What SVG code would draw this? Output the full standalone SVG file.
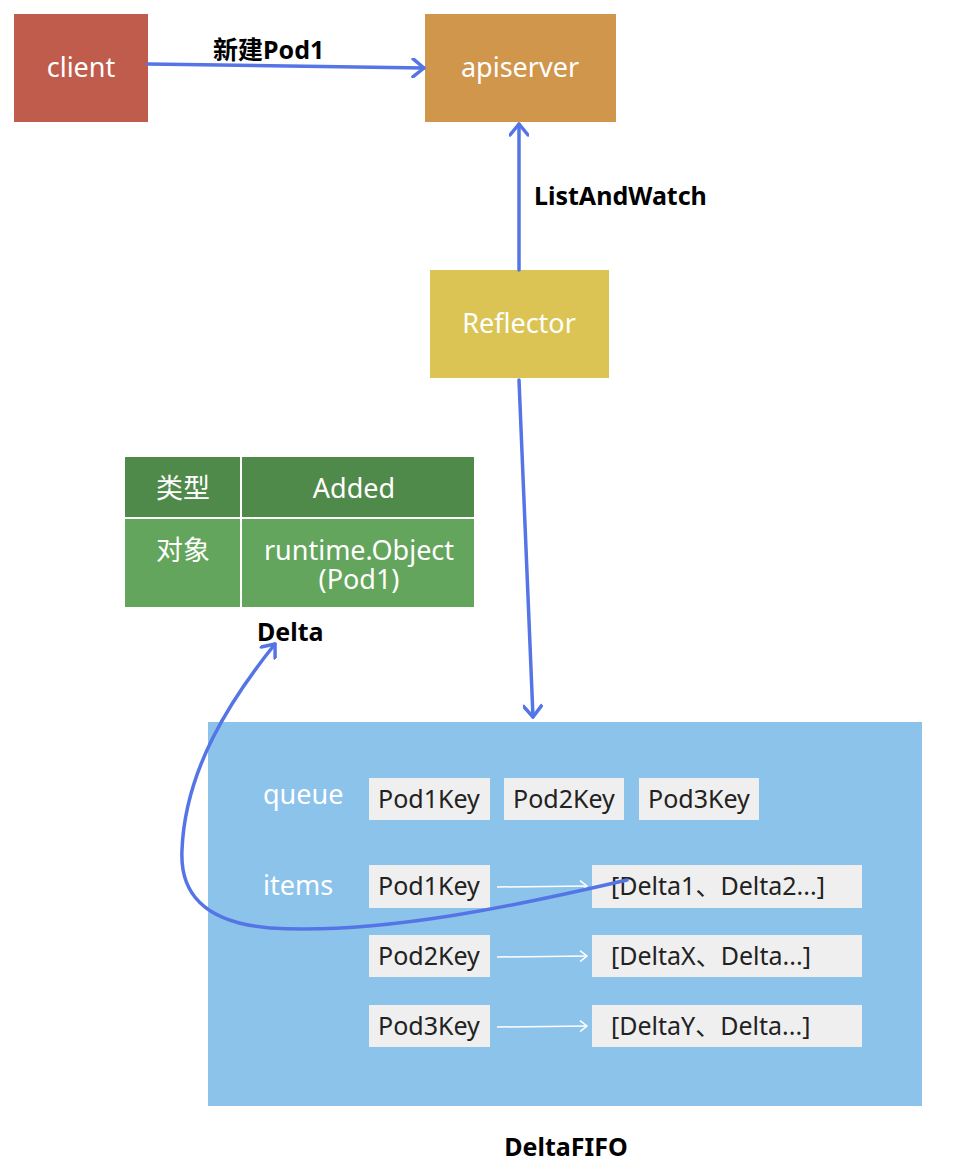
<svg xmlns="http://www.w3.org/2000/svg" width="953" height="1174" viewBox="0 0 953 1174">
<style>
.t{font-family:"Noto Sans","Noto Sans CJK SC",sans-serif}
.wt{fill:#fff;font-size:27px}
.bt{fill:#000;font-size:25px;font-weight:bold}
.kt{fill:#222;font-size:25px}
.key{fill:#efefef}
.con{fill:none;stroke:#5575e6;stroke-width:3.5;stroke-linecap:round}
.thin{fill:none;stroke:#fff;stroke-width:1.5}
</style>
<defs>
<marker id="ah" viewBox="0 0 20 20" refX="14" refY="10" markerWidth="20" markerHeight="20" markerUnits="userSpaceOnUse" orient="auto">
<path d="M3 1 L14 10 L3 19" fill="none" stroke="#5575e6" stroke-width="3.5" stroke-linecap="round" stroke-linejoin="round"/>
</marker>
<marker id="wh" viewBox="0 0 12 12" refX="10" refY="6" markerWidth="12" markerHeight="12" markerUnits="userSpaceOnUse" orient="auto">
<path d="M3 0.5 L10 6 L3 11.5" fill="none" stroke="#fff" stroke-width="1.5"/>
</marker>
</defs>
<rect width="953" height="1174" fill="#fff"/>

<g id="client">
<rect x="14" y="14" width="134" height="108" fill="#c05c4c"/>
<text class="t wt" x="81" y="77" text-anchor="middle">client</text>
</g>
<g id="apiserver">
<rect x="425" y="14" width="191" height="108" fill="#d0964b"/>
<text class="t wt" x="520" y="77" text-anchor="middle">apiserver</text>
</g>
<g id="reflector">
<rect x="430" y="270" width="179" height="108" fill="#dcc454"/>
<text class="t wt" x="519" y="333" text-anchor="middle">Reflector</text>
</g>

<g id="delta">
<rect x="125" y="457" width="349" height="60" fill="#4f8a4b"/>
<rect x="125" y="519" width="349" height="88" fill="#63a55c"/>
<line x1="241" y1="457" x2="241" y2="607" stroke="#fff" stroke-width="2"/>
<text class="t wt" x="183" y="498" text-anchor="middle" font-size="25">类型</text>
<text class="t wt" x="354" y="498" text-anchor="middle">Added</text>
<text class="t wt" x="183" y="560" text-anchor="middle" font-size="25">对象</text>
<text class="t wt" x="359" y="560" text-anchor="middle">runtime.Object</text>
<text class="t wt" x="359" y="589" text-anchor="middle">(Pod1)</text>
<text class="t bt" x="257" y="641">Delta</text>
</g>

<g id="deltafifo">
<rect x="208" y="722" width="714" height="384" fill="#8cc3ea"/>
<text class="t wt" x="263" y="804">queue</text>
<text class="t wt" x="263" y="895">items</text>
<g id="queue">
<rect class="key" x="369" y="778" width="121" height="42"/>
<text class="t kt" x="429" y="808" text-anchor="middle">Pod1Key</text>
<rect class="key" x="504" y="778" width="120" height="42"/>
<text class="t kt" x="564" y="808" text-anchor="middle">Pod2Key</text>
<rect class="key" x="639" y="778" width="120" height="42"/>
<text class="t kt" x="699" y="808" text-anchor="middle">Pod3Key</text>
</g>
<g id="items">
<rect class="key" x="369" y="865" width="121" height="43"/>
<text class="t kt" x="429" y="895" text-anchor="middle">Pod1Key</text>
<rect class="key" x="592" y="865" width="270" height="43"/>
<text class="t kt" x="611" y="895">[Delta1、Delta2...]</text>
<rect class="key" x="369" y="935" width="121" height="42"/>
<text class="t kt" x="429" y="965" text-anchor="middle">Pod2Key</text>
<rect class="key" x="592" y="935" width="270" height="42"/>
<text class="t kt" x="611" y="965">[DeltaX、Delta...]</text>
<rect class="key" x="369" y="1005" width="121" height="42"/>
<text class="t kt" x="429" y="1035" text-anchor="middle">Pod3Key</text>
<rect class="key" x="592" y="1005" width="270" height="42"/>
<text class="t kt" x="611" y="1035">[DeltaY、Delta...]</text>
<line class="thin" x1="497" y1="887" x2="587" y2="886" marker-end="url(#wh)"/>
<line class="thin" x1="497" y1="957" x2="587" y2="956" marker-end="url(#wh)"/>
<line class="thin" x1="497" y1="1027" x2="587" y2="1026" marker-end="url(#wh)"/>
</g>
<text class="t bt" x="566" y="1156" text-anchor="middle">DeltaFIFO</text>
</g>

<g id="connectors">
<path class="con" d="M148 64 L424 68" marker-end="url(#ah)"/>
<text class="t bt" x="213" y="59">新建Pod1</text>
<path class="con" d="M519 270 L519 124" marker-end="url(#ah)"/>
<text class="t bt" x="534" y="205">ListAndWatch</text>
<path class="con" d="M519 380 L533 717" marker-end="url(#ah)"/>
<path class="con" d="M627 880 C520 905 380 935 270 928 C200 922 180 890 182 850 C185 770 230 700 275 644" marker-end="url(#ah)"/>
</g>
</svg>
